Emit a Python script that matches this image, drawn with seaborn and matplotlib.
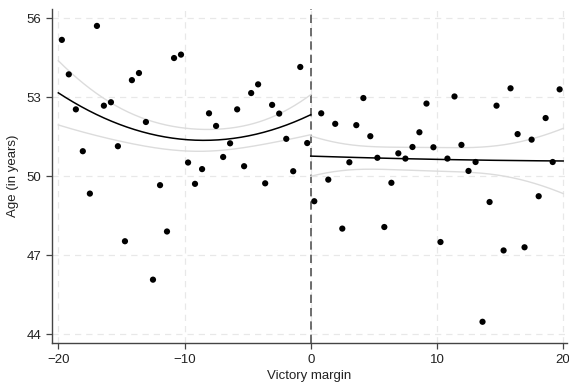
import numpy as np
import pandas as pd
import matplotlib
matplotlib.use("Agg")
import matplotlib.pyplot as plt
import seaborn as sns

# ---- data (binned means) ----
left_x = [-19.72, -19.17, -18.61, -18.06, -17.50, -16.94, -16.39, -15.83, -15.28,
          -14.72, -14.17, -13.61, -13.06, -12.50, -11.94, -11.39, -10.83, -10.28,
          -9.72, -9.17, -8.61, -8.06, -7.50, -6.94, -6.39, -5.83, -5.28, -4.72,
          -4.17, -3.61, -3.06, -2.50, -1.94, -1.39, -0.83, -0.28]
left_y = [55.18, 53.87, 52.54, 50.95, 49.34, 55.71, 52.68, 52.81, 51.14,
          47.53, 53.65, 53.92, 52.06, 46.07, 49.66, 47.90, 54.49, 54.62,
          50.52, 49.71, 50.27, 52.39, 51.91, 50.73, 51.25, 52.54, 50.38, 53.16,
          53.49, 49.73, 52.71, 52.38, 51.42, 50.19, 54.15, 51.26]
right_x = [0.28, 0.83, 1.39, 1.94, 2.50, 3.06, 3.61, 4.17, 4.72, 5.28, 5.83, 6.39,
           6.94, 7.50, 8.06, 8.61, 9.17, 9.72, 10.28, 10.83, 11.39, 11.94, 12.50,
           13.06, 13.61, 14.17, 14.72, 15.28, 15.83, 16.39, 16.94, 17.50, 18.06,
           18.61, 19.17, 19.72]
right_y = [49.05, 52.39, 49.87, 51.99, 48.01, 50.53, 51.94, 52.97, 51.52, 50.70,
           48.07, 49.75, 50.87, 50.67, 51.11, 51.67, 52.76, 51.10, 47.50, 50.67,
           53.03, 51.19, 50.20, 50.54, 44.47, 49.02, 52.68, 47.18, 53.34, 51.60,
           47.30, 51.39, 49.24, 52.21, 50.54, 53.30]

# quadratic fit and 95% CI at a few margins
left_fit_x = [-20.0, -15.3, -10.0, -6.4, -3.25, 0.0]
left_fit = [53.14, 52.06, 51.37, 51.38, 51.76, 52.34]
left_ci_upper = [54.34, 52.76, 51.81, 51.87, 52.25, 53.08]
left_ci_lower = [51.90, 51.47, 50.95, 51.05, 51.30, 51.56]
right_fit_x = [0.0, 3.5, 9.8, 14.7, 17.4, 20.0]
right_fit = [50.76, 50.72, 50.64, 50.60, 50.59, 50.58]
right_ci_upper = [51.53, 51.18, 51.09, 51.18, 51.39, 51.82]
right_ci_lower = [50.00, 50.25, 50.22, 50.04, 49.78, 49.34]

x_ticks = [-20, -10, 0, 10, 20]
y_ticks = [44, 47, 50, 53, 56]
x_label = "Victory margin"
y_label = "Age (in years)"


def smooth_curves(xs, fit, up, lo, n=200):
    xs = np.asarray(xs); fit = np.asarray(fit)
    up = np.asarray(up); lo = np.asarray(lo)
    g = np.linspace(xs.min(), xs.max(), n)
    f = np.polyval(np.polyfit(xs, fit, 2), g)
    hw2 = np.polyval(np.polyfit(xs, ((up - lo) / 2) ** 2, 4), g)
    hw = np.sqrt(np.clip(hw2, 0, None))
    return pd.DataFrame({"x": g, "fit": f, "lo": f - hw, "hi": f + hw})


plt.rcParams["font.family"] = ["Liberation Sans", "DejaVu Sans"]
fig = plt.figure(figsize=(5.69, 3.89), dpi=100)
ax = fig.add_axes([0.0914, 0.118, 0.905, 0.858])

ax.set_xlim(-20.5, 20.3)
ax.set_ylim(43.66, 56.34)
ax.set_xticks(x_ticks)
ax.set_yticks(y_ticks)
ax.grid(True, color="#e8e8e8", linestyle=(0, (5, 4)), linewidth=0.9)
ax.set_axisbelow(True)

ax.axvline(0, color="#555555", linestyle=(0, (5, 3)), linewidth=1.2, zorder=2)

dl = smooth_curves(left_fit_x, left_fit, left_ci_upper, left_ci_lower)
dr = smooth_curves(right_fit_x, right_fit, right_ci_upper, right_ci_lower)
for d in (dl, dr):
    sns.lineplot(data=d, x="x", y="lo", ax=ax, color="#dcdcdc", linewidth=1.0, zorder=3)
    sns.lineplot(data=d, x="x", y="hi", ax=ax, color="#dcdcdc", linewidth=1.0, zorder=3)
    sns.lineplot(data=d, x="x", y="fit", ax=ax, color="black", linewidth=1.1, zorder=4)

pts = pd.DataFrame({"x": left_x + right_x, "y": left_y + right_y})
sns.scatterplot(data=pts, x="x", y="y", ax=ax, color="black", s=20,
                edgecolor="none", zorder=5)

for s in ("top", "right"):
    ax.spines[s].set_visible(False)
for s in ("left", "bottom"):
    ax.spines[s].set_color("#444444")
    ax.spines[s].set_linewidth(1.0)
ax.tick_params(axis="both", direction="out", length=4, width=0.9, color="#444444",
               labelsize=9.5, labelcolor="#222222")
ax.set_xlabel(x_label, fontsize=9.5, color="#222222", labelpad=3)
ax.set_ylabel(y_label, fontsize=9.5, color="#222222", labelpad=6)
ax.set_yticklabels([str(v) for v in y_ticks])

fig.savefig("out.png", dpi=100)
